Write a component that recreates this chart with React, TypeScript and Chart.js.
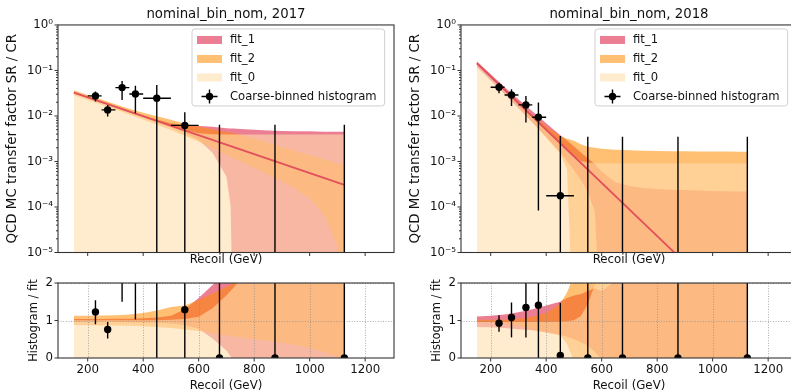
import React, { useEffect, useRef } from "react";
import { Chart, registerables } from "chart.js";

Chart.register(...registerables);

const FONT = "'DejaVu Sans', 'Liberation Sans', sans-serif";

// ---------- axes / text ----------
const X_MIN = 93;
const X_MAX = 1304;
const X_TICKS = [200, 400, 600, 800, 1000, 1200];
const LOG_MAJOR = [1e-5, 1e-4, 1e-3, 1e-2, 1e-1, 1];
const LOG_LABELS = ["10⁻⁵", "10⁻⁴", "10⁻³", "10⁻²", "10⁻¹", "10⁰"];
const LOG_MINOR_STEPS = [2, 3, 4, 5, 6, 7, 8, 9];
const RATIO_TICKS = [0, 1, 2];
const TITLE_17 = "nominal_bin_nom, 2017";
const TITLE_18 = "nominal_bin_nom, 2018";
const LEGEND_LABELS = ["fit_1", "fit_2", "fit_0", "Coarse-binned histogram"];

// ---------- coarse-binned histogram ----------
const BIN_LO = [200, 250, 300, 350, 400, 500, 600, 750, 1000];
const BIN_HI = [250, 300, 350, 400, 500, 600, 750, 1000, 1250];

const H17_X = [228, 272, 324, 372, 449, 550, 675, 875, 1125];
const H17_Y = [0.0276, 0.0136, 0.042, 0.0305, 0.0245, 0.0062, 0, 0, 0];
const H17_LO = [0.0207, 0.0097, 0.0225, 0.0115, 0, 0, 0, 0, 0];
const H17_HI = [0.0343, 0.0175, 0.059, 0.046, 0.048, 0.0121, 0.0064, 0.0064, 0.0064];
const R17_Y = [1.23, 0.76, 2.96, 2.7, 3.1, 1.29, 0, 0, 0];
const R17_LO = [0.9, 0.52, 1.5, 1.03, 0, 0, 0, 0, 0];
const R17_HI = [1.54, 0.96, 4.2, 4.1, 6.2, 2.5, 2.4, 6.3, 21];

const H18_X = [230, 275, 327, 372, 451, 550, 675, 875, 1125];
const H18_Y = [0.0428, 0.029, 0.0175, 0.0094, 0.000176, 0, 0, 0, 0];
const H18_LO = [0.0316, 0.0166, 0.0072, 0.000084, 0, 0, 0, 0, 0];
const H18_HI = [0.054, 0.0386, 0.0276, 0.0197, 0.00365, 0.0035, 0.0035, 0.0035, 0.0035];
const R18_Y = [0.93, 1.08, 1.35, 1.41, 0.07, 0, 0, 0, 0];
const R18_LO = [0.7, 0.55, 0.55, 0, 0, 0, 0, 0, 0];
const R18_HI = [1.14, 1.48, 2.5, 3.0, 1.47, 10, 20, 100, 1000];

// ---------- nominal fit lines ----------
const FIT17_X = [150, 1125];
const FIT17_Y = [0.0326, 0.000307];
const FIT18_X = [150, 1125];
const FIT18_Y = [0.144, 2.9e-7];

// ---------- fit bands 2017 ----------
const X17 = [150, 200, 250, 300, 350, 400, 450, 500, 550, 600, 650, 700, 715, 725, 750, 800, 850, 900, 950, 1000, 1050, 1100, 1115, 1125];
const F1_LO_17 = [0.0316, 0.0248, 0.0195, 0.0153, 0.0119, 0.00935, 0.0073, 0.00562, 0.00423, 0.00295, 0.00155, 0.00047, 0.000109, 1e-7, 1e-7, 1e-7, 1e-7, 1e-7, 1e-7, 1e-7, 1e-7, 1e-7, 1e-7, 1e-7];
const F1_HI_17 = [0.0339, 0.0266, 0.021, 0.0166, 0.0131, 0.0104, 0.00838, 0.0069, 0.00625, 0.00605, 0.0058, 0.0054, 0.0053, 0.0053, 0.0052, 0.005, 0.0048, 0.0047, 0.0046, 0.0046, 0.0045, 0.0045, 0.0045, 0.0045];
const F2_LO_17 = [0.0287, 0.0224, 0.0176, 0.0138, 0.01075, 0.00836, 0.00644, 0.00489, 0.00366, 0.00272, 0.00197, 0.0014, 0.00128, 0.0012, 0.00102, 0.000725, 0.000524, 0.000369, 0.000248, 0.000151, 0.00007, 0.000014, 0.0000016, 1e-7];
const F2_HI_17 = [0.0368, 0.0289, 0.0229, 0.0181, 0.0145, 0.0118, 0.00986, 0.00831, 0.00673, 0.00586, 0.00513, 0.00445, 0.00427, 0.00416, 0.00385, 0.00319, 0.00258, 0.0021, 0.0017, 0.00138, 0.00113, 0.00092, 0.00087, 0.00084];
const F0_HI_17 = [0.0329, 0.0259, 0.0204, 0.0161, 0.0126, 0.00994, 0.00784, 0.00623, 0.005, 0.00416, 0.00396, 0.0039, 0.0039, 0.0039, 0.0039, 0.0039, 0.0039, 0.0039, 0.0039, 0.0039, 0.0039, 0.0039, 0.0039, 0.0039];

const R1_LO_17 = [0.97, 0.97, 0.965, 0.96, 0.955, 0.95, 0.94, 0.92, 0.88, 0.78, 0.52, 0.2, 0.05, -0.1, -0.5, -0.5, -0.5, -0.5, -0.5, -0.5, -0.5, -0.5, -0.5, -0.5];
const R1_HI_17 = [1.04, 1.04, 1.04, 1.045, 1.05, 1.06, 1.08, 1.13, 1.3, 1.6, 1.95, 2.3, 2.45, 2.55, 2.8, 3.4, 4.2, 5.2, 6.5, 8.2, 10.2, 13, 14, 14.7];
const R2_LO_17 = [0.88, 0.875, 0.87, 0.865, 0.86, 0.85, 0.83, 0.8, 0.76, 0.72, 0.66, 0.6, 0.585, 0.575, 0.55, 0.5, 0.46, 0.41, 0.35, 0.27, 0.16, 0.04, 0.005, -0.03];
const R2_HI_17 = [1.13, 1.13, 1.135, 1.14, 1.16, 1.2, 1.27, 1.36, 1.4, 1.55, 1.72, 1.9, 1.96, 2.0, 2.08, 2.2, 2.26, 2.33, 2.4, 2.48, 2.56, 2.66, 2.7, 2.73];
const R0_HI_17 = [1.01, 1.01, 1.01, 1.01, 1.01, 1.01, 1.01, 1.02, 1.04, 1.1, 1.33, 1.67, 1.79, 1.87, 2.1, 2.7, 3.4, 4.3, 5.5, 7.0, 8.9, 11.3, 12.1, 12.7];

// ---------- fit bands 2018 ----------
const X18 = [150, 200, 250, 300, 350, 400, 450, 475, 500, 525, 550, 575, 600, 650, 700, 750, 800, 850, 900, 950, 1000, 1050, 1100, 1125];
const F1_LO_18 = [0.1195, 0.0603, 0.03, 0.0147, 0.00722, 0.00343, 0.00157, 0.00103, 0.000645, 0.000388, 0.000217, 0.00008, 1e-7, 1e-7, 1e-7, 1e-7, 1e-7, 1e-7, 1e-7, 1e-7, 1e-7, 1e-7, 1e-7, 1e-7];
const F1_HI_18 = [0.16, 0.083, 0.0435, 0.0233, 0.0127, 0.00696, 0.00381, 0.0029, 0.00215, 0.00158, 0.00118, 0.00088, 0.0006, 0.00035, 0.00029, 0.00026, 0.00025, 0.00024, 0.000235, 0.00023, 0.000225, 0.000222, 0.00022, 0.00022];
const F2_LO_18 = [0.138, 0.0698, 0.0345, 0.0164, 0.00741, 0.00338, 0.00152, 0.00069, 1e-7, 1e-7, 1e-7, 1e-7, 1e-7, 1e-7, 1e-7, 1e-7, 1e-7, 1e-7, 1e-7, 1e-7, 1e-7, 1e-7, 1e-7, 1e-7];
const F2_HI_18 = [0.147, 0.075, 0.0386, 0.0201, 0.0107, 0.00596, 0.00368, 0.00317, 0.00284, 0.0024, 0.0021, 0.002, 0.0019, 0.00182, 0.00176, 0.00173, 0.0017, 0.00168, 0.00167, 0.00166, 0.00165, 0.00165, 0.00164, 0.00164];
const F0_HI_18 = [0.138, 0.0706, 0.036, 0.0183, 0.00936, 0.00477, 0.00246, 0.00178, 0.0013, 0.00103, 0.00095, 0.00092, 0.00091, 0.0009, 0.0009, 0.0009, 0.0009, 0.0009, 0.0009, 0.0009, 0.0009, 0.0009, 0.0009, 0.0009];

const R1_LO_18 = [0.83, 0.82, 0.8, 0.77, 0.74, 0.69, 0.62, 0.57, 0.5, 0.42, 0.33, 0.17, -0.05, -0.5, -1, -1, -1, -1, -1, -1, -1, -1, -1, -1];
const R1_HI_18 = [1.11, 1.13, 1.16, 1.22, 1.3, 1.4, 1.5, 1.6, 1.67, 1.71, 1.79, 1.87, 1.79, 2.05, 3.3, 5.8, 11, 21, 40, 60, 80, 100, 100, 100];
const R2_LO_18 = [0.96, 0.95, 0.92, 0.86, 0.76, 0.68, 0.6, 0.38, -0.1, -0.6, -1, -1, -1, -1, -1, -1, -1, -1, -1, -1, -1, -1, -1, -1];
const R2_HI_18 = [1.02, 1.02, 1.03, 1.05, 1.1, 1.2, 1.45, 1.75, 2.2, 2.6, 3.2, 4.2, 5.7, 10, 20, 40, 75, 100, 100, 100, 100, 100, 100, 100];
const R0_HI_18 = [0.96, 0.96, 0.96, 0.96, 0.96, 0.96, 0.97, 0.98, 1.01, 1.12, 1.44, 1.95, 2.7, 5.3, 10, 20, 40, 78, 100, 100, 100, 100, 100, 100];

// ---------- styles ----------
const C_FIT1 = "rgba(220, 20, 60, 0.55)";
const C_FIT2 = "rgba(255, 140, 0, 0.55)";
const C_FIT0 = "rgba(255, 222, 173, 0.6)";
const C_LINE = "#e2505c";
const NONE = "rgba(0,0,0,0)";

type Panel = {
  ratio: boolean;
  title?: string;
  bx: number[];
  f1lo: number[];
  f1hi: number[];
  f2lo: number[];
  f2hi: number[];
  f0hi: number[];
  fitX?: number[];
  fitY?: number[];
  hx: number[];
  hy: number[];
  hlo: number[];
  hhi: number[];
};

const TOP17: Panel = { ratio: false, title: TITLE_17, bx: X17, f1lo: F1_LO_17, f1hi: F1_HI_17, f2lo: F2_LO_17, f2hi: F2_HI_17, f0hi: F0_HI_17, fitX: FIT17_X, fitY: FIT17_Y, hx: H17_X, hy: H17_Y, hlo: H17_LO, hhi: H17_HI };
const TOP18: Panel = { ratio: false, title: TITLE_18, bx: X18, f1lo: F1_LO_18, f1hi: F1_HI_18, f2lo: F2_LO_18, f2hi: F2_HI_18, f0hi: F0_HI_18, fitX: FIT18_X, fitY: FIT18_Y, hx: H18_X, hy: H18_Y, hlo: H18_LO, hhi: H18_HI };
const RAT17: Panel = { ratio: true, bx: X17, f1lo: R1_LO_17, f1hi: R1_HI_17, f2lo: R2_LO_17, f2hi: R2_HI_17, f0hi: R0_HI_17, hx: H17_X, hy: R17_Y, hlo: R17_LO, hhi: R17_HI };
const RAT18: Panel = { ratio: true, bx: X18, f1lo: R1_LO_18, f1hi: R1_HI_18, f2lo: R2_LO_18, f2hi: R2_HI_18, f0hi: R0_HI_18, hx: H18_X, hy: R18_Y, hlo: R18_LO, hhi: R18_HI };

const pts = (xs: number[], ys: number[]) => xs.map((x, i) => ({ x, y: ys[i] }));

function bandDs(label: string, data: any, fill: any, color: string, order: number) {
  return {
    label,
    data,
    fill,
    backgroundColor: color,
    borderColor: NONE,
    borderWidth: 0,
    pointRadius: 0,
    pointHoverRadius: 0,
    pointHitRadius: 0,
    order,
  };
}

function panelPlugin(p: Panel) {
  return {
    id: "panelDecor",
    beforeDatasetDraw(chart: any, args: any) {
      if (args.index !== 0) return;
      const { ctx, chartArea: a, scales } = chart;
      const xs = scales.x;
      const ys = scales.y;
      ctx.save();
      ctx.beginPath();
      ctx.rect(a.left, a.top, a.right - a.left, a.bottom - a.top);
      ctx.clip();
      if (p.ratio) {
        ctx.strokeStyle = "rgba(140,140,140,0.9)";
        ctx.lineWidth = 0.8;
        ctx.setLineDash([1, 1.6]);
        for (const v of X_TICKS) {
          const px = Math.round(xs.getPixelForValue(v)) + 0.5;
          ctx.beginPath();
          ctx.moveTo(px, a.top);
          ctx.lineTo(px, a.bottom);
          ctx.stroke();
        }
        for (const v of RATIO_TICKS) {
          const py = Math.round(ys.getPixelForValue(v)) + 0.5;
          ctx.beginPath();
          ctx.moveTo(a.left, py);
          ctx.lineTo(a.right, py);
          ctx.stroke();
        }
        ctx.setLineDash([]);
      }
      const yPix = (v: number) => (p.ratio ? ys.getPixelForValue(v) : v > 0 ? ys.getPixelForValue(v) : a.bottom + 5);
      ctx.strokeStyle = "#000";
      ctx.lineWidth = 1.4;
      for (let i = 0; i < p.hx.length; i++) {
        const px = xs.getPixelForValue(p.hx[i]);
        ctx.beginPath();
        ctx.moveTo(px, yPix(p.hlo[i]));
        ctx.lineTo(px, yPix(p.hhi[i]));
        ctx.stroke();
        if (!p.ratio && p.hy[i] > 0) {
          const py = yPix(p.hy[i]);
          ctx.beginPath();
          ctx.moveTo(xs.getPixelForValue(BIN_LO[i]), py);
          ctx.lineTo(xs.getPixelForValue(BIN_HI[i]), py);
          ctx.stroke();
        }
      }
      ctx.restore();
    },
    afterDraw(chart: any) {
      const { ctx, chartArea: a, scales } = chart;
      const xs = scales.x;
      const ys = scales.y;
      ctx.save();
      ctx.strokeStyle = "#333";
      ctx.lineWidth = 1.1;
      ctx.strokeRect(a.left, a.top, a.right - a.left, a.bottom - a.top);
      ctx.lineWidth = 1;
      for (const t of ys.ticks) {
        const py = ys.getPixelForValue(t.value);
        const major = p.ratio || LOG_MAJOR.indexOf(t.value) >= 0;
        const len = major ? 3.5 : 2;
        ctx.beginPath();
        ctx.moveTo(a.left - len, py);
        ctx.lineTo(a.left, py);
        ctx.stroke();
      }
      for (const v of X_TICKS) {
        const px = xs.getPixelForValue(v);
        ctx.beginPath();
        ctx.moveTo(px, a.bottom);
        ctx.lineTo(px, a.bottom + 3.5);
        ctx.stroke();
      }
      if (!p.ratio) {
        ctx.font = `11.6px ${FONT}`;
        const tw = ctx.measureText(LEGEND_LABELS[3]).width;
        const left = a.right - 202;
        const top = a.top + 4;
        const w = 38 + tw + 8;
        const h = 77;
        ctx.beginPath();
        if ((ctx as any).roundRect) (ctx as any).roundRect(left, top, w, h, 3);
        else ctx.rect(left, top, w, h);
        ctx.fillStyle = "rgba(255,255,255,0.8)";
        ctx.fill();
        ctx.strokeStyle = "#d0d0d0";
        ctx.lineWidth = 1;
        ctx.stroke();
        const rows = [top + 11, top + 30, top + 48.5, top + 67.5];
        const cols = [C_FIT1, C_FIT2, C_FIT0];
        for (let i = 0; i < 3; i++) {
          ctx.fillStyle = cols[i];
          ctx.fillRect(left + 5, rows[i] - 4, 25, 8);
        }
        const cx = left + 17.5;
        const cy = rows[3];
        ctx.strokeStyle = "#000";
        ctx.lineWidth = 1.4;
        ctx.beginPath();
        ctx.moveTo(cx - 8, cy);
        ctx.lineTo(cx + 8, cy);
        ctx.moveTo(cx, cy - 7);
        ctx.lineTo(cx, cy + 7);
        ctx.stroke();
        ctx.fillStyle = "#000";
        ctx.beginPath();
        ctx.arc(cx, cy, 3.7, 0, Math.PI * 2);
        ctx.fill();
        ctx.fillStyle = "#111";
        ctx.textBaseline = "middle";
        ctx.textAlign = "left";
        for (let i = 0; i < 4; i++) ctx.fillText(LEGEND_LABELS[i], left + 38, rows[i] + 0.5);
      }
      ctx.restore();
    },
  };
}

function buildConfig(p: Panel): any {
  const datasets: any[] = [];
  datasets.push({
    label: LEGEND_LABELS[3],
    data: pts(p.hx, p.hy),
    showLine: false,
    pointRadius: 3.7,
    pointHoverRadius: 3.7,
    pointBackgroundColor: "#000",
    pointBorderColor: "#000",
    pointBorderWidth: 0,
    fill: false,
    order: 0,
    clip: 0,
  });
  if (p.fitX && p.fitY) {
    datasets.push({
      label: "fit",
      data: pts(p.fitX, p.fitY),
      borderColor: C_LINE,
      borderWidth: 1.8,
      pointRadius: 0,
      pointHoverRadius: 0,
      fill: false,
      order: 1,
    });
  }
  datasets.push(bandDs("fit_0", pts(p.bx, p.f0hi), "start", C_FIT0, 2));
  datasets.push(bandDs("fit_2 low", pts(p.bx, p.f2lo), false, NONE, 3));
  datasets.push(bandDs("fit_2", pts(p.bx, p.f2hi), "-1", C_FIT2, 3));
  datasets.push(bandDs("fit_1 low", pts(p.bx, p.f1lo), false, NONE, 4));
  datasets.push(bandDs("fit_1", pts(p.bx, p.f1hi), "-1", C_FIT1, 4));

  const tickFont = { family: FONT, size: 11.8 };
  const yScale = p.ratio
    ? {
        type: "linear",
        min: 0,
        max: 2,
        afterFit: (s: any) => {
          s.width = 58;
        },
        afterBuildTicks: (s: any) => {
          s.ticks = RATIO_TICKS.map((v) => ({ value: v }));
        },
        ticks: { autoSkip: false, padding: 1, color: "#111", font: tickFont, callback: (v: number) => String(v) },
        grid: { display: true, drawOnChartArea: false, drawTicks: true, tickLength: 4, tickColor: NONE },
        border: { display: false },
        title: { display: true, text: "Histogram / fit", color: "#111", font: { family: FONT, size: 11.5 }, padding: { top: 27, bottom: 0 } },
      }
    : {
        type: "logarithmic",
        min: 1e-5,
        max: 1,
        afterFit: (s: any) => {
          s.width = 58;
        },
        afterBuildTicks: (s: any) => {
          const t: any[] = [];
          for (const m of LOG_MAJOR) {
            t.push({ value: m });
            if (m < 1) for (const k of LOG_MINOR_STEPS) t.push({ value: m * k });
          }
          s.ticks = t;
        },
        ticks: {
          autoSkip: false,
          padding: 1,
          color: "#111",
          font: tickFont,
          callback: (v: number) => {
            const i = LOG_MAJOR.indexOf(v);
            return i >= 0 ? LOG_LABELS[i] : "";
          },
        },
        grid: { display: true, drawOnChartArea: false, drawTicks: true, tickLength: 4, tickColor: NONE },
        border: { display: false },
        title: { display: true, text: "QCD MC transfer factor SR / CR", color: "#111", font: { family: FONT, size: 13.4 }, padding: { top: 4, bottom: 0 } },
      };

  return {
    type: "line",
    data: { datasets },
    plugins: [panelPlugin(p)],
    options: {
      animation: false,
      responsive: false,
      devicePixelRatio: 1,
      events: [],
      layout: { padding: { top: p.ratio ? 15 : 0, left: 0, right: 6, bottom: 0 } },
      plugins: {
        legend: { display: false },
        tooltip: { enabled: false },
        title: p.ratio
          ? { display: false }
          : {
              display: true,
              text: p.title,
              fullSize: false,
              color: "#111",
              font: { family: FONT, size: 13.3, weight: "normal" },
              padding: { top: 7, bottom: 2 },
            },
      },
      scales: {
        x: {
          type: "linear",
          min: X_MIN,
          max: X_MAX,
          afterFit: (s: any) => {
            s.height = p.ratio ? 40 : 15.5;
          },
          afterBuildTicks: (s: any) => {
            s.ticks = X_TICKS.map((v) => ({ value: v }));
          },
          ticks: { display: p.ratio, autoSkip: false, padding: 1, maxRotation: 0, color: "#111", font: tickFont, callback: (v: number) => String(v) },
          grid: { display: true, drawOnChartArea: false, drawTicks: true, tickLength: 4, tickColor: NONE },
          border: { display: false },
          title: { display: true, text: "Recoil (GeV)", color: "#111", font: tickFont, padding: { top: 0, bottom: p.ratio ? 5 : 1 } },
        },
        y: yScale,
      },
    },
  };
}

const LAYOUT = [
  { left: 0, top: 0, w: 400, h: 268 },
  { left: 403, top: 0, w: 400, h: 268 },
  { left: 0, top: 268, w: 400, h: 130 },
  { left: 403, top: 268, w: 400, h: 130 },
];

export default function App() {
  const r0 = useRef<HTMLCanvasElement>(null);
  const r1 = useRef<HTMLCanvasElement>(null);
  const r2 = useRef<HTMLCanvasElement>(null);
  const r3 = useRef<HTMLCanvasElement>(null);
  const refs = [r0, r1, r2, r3];

  useEffect(() => {
    const specs = [TOP17, TOP18, RAT17, RAT18];
    const charts = specs.map((s, i) => new Chart(refs[i].current as HTMLCanvasElement, buildConfig(s)));
    return () => charts.forEach((c) => c.destroy());
  }, []);

  return (
    <div style={{ position: "fixed", left: 0, top: 0, width: 791, height: 391, overflow: "hidden", background: "#fff" }}>
      {LAYOUT.map((l, i) => (
        <canvas
          key={i}
          ref={refs[i]}
          width={l.w}
          height={l.h}
          style={{ position: "absolute", left: l.left, top: l.top, width: l.w, height: l.h }}
        />
      ))}
    </div>
  );
}
